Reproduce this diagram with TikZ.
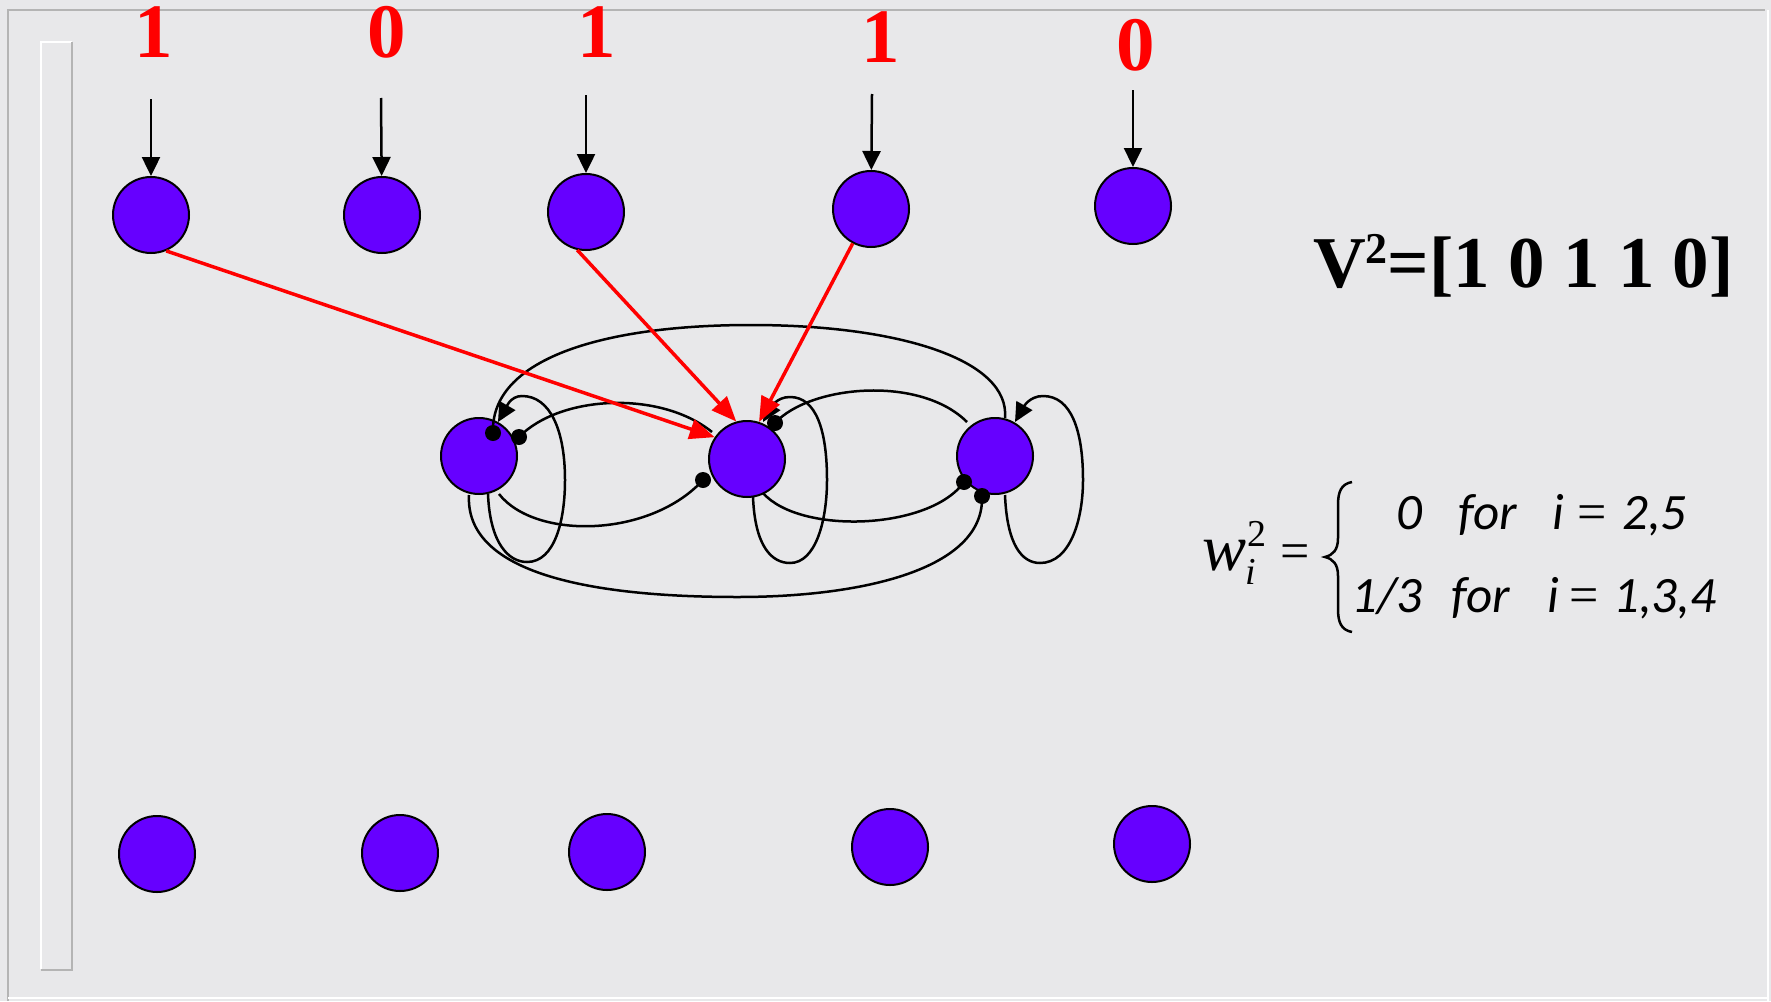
\documentclass[tikz,border=0pt]{standalone}
\usepackage{fontspec}
\setmainfont{Liberation Serif}
\newfontfamily\calfont{Carlito}
\usetikzlibrary{arrows.meta,calc}
\definecolor{purp}{HTML}{6600FF}
\definecolor{bgc}{HTML}{E8E8EA}
\definecolor{framec}{HTML}{B4B4B4}
\begin{document}
\begin{tikzpicture}[x=1pt,y=-1pt,
  neuron/.style={circle,draw=black,line width=2pt,fill=purp,minimum size=76pt,inner sep=0pt},
  bit/.style={text=red,font=\fontsize{77}{77}\selectfont\bfseries,inner sep=0pt,anchor=base},
  inarrow/.style={line width=2.5pt,-{Triangle[length=19pt,width=18pt]}},
  redarrow/.style={red,line width=3.5pt,-{Triangle[length=25pt,width=20pt]}},
  link/.style={line width=2.5pt},
  selfloop/.style={line width=2.5pt,-{Triangle[length=19pt,width=18pt]}},
  rowtext/.style={font=\fontsize{51}{51}\selectfont\calfont\itshape,inner sep=0pt,anchor=base west},
  eqtext/.style={font=\fontsize{52}{52}\selectfont,inner sep=0pt,anchor=base west},
]
\fill[bgc] (0,0) rectangle (1771,1001);
\useasboundingbox (0,0) rectangle (1771,1001);
% frames
\draw[framec,line width=2.5pt] (8,1001) -- (8,10) -- (1765,10);
\draw[white,line width=2.5pt] (1768,10) -- (1768,1001);
\draw[white,line width=2.5pt] (8,998) -- (1768,998);
\draw[white,line width=2.5pt] (41,969) -- (41,42) -- (72,42);
\draw[framec,line width=2.5pt] (72,42) -- (72,970) -- (41,970);

% top labels
\node[bit] (l1) at (154,57) {1};
\node[bit] (l2) at (387,57) {0};
\node[bit] (l3) at (597,57) {1};
\node[bit] (l4) at (881,62) {1};
\node[bit] (l5) at (1136,70) {0};

% top row
\node[neuron] (t1) at (151,215) {};
\node[neuron] (t2) at (382,215) {};
\node[neuron] (t3) at (586,212) {};
\node[neuron] (t4) at (871,209) {};
\node[neuron] (t5) at (1133,206) {};
% middle row
\node[neuron] (L) at (479,456) {};
\node[neuron] (M) at (747,459) {};
\node[neuron] (R) at (995,456) {};
% bottom row
\node[neuron] (b1) at (157,854) {};
\node[neuron] (b2) at (400,853) {};
\node[neuron] (b3) at (607,852) {};
\node[neuron] (b4) at (890,847) {};
\node[neuron] (b5) at (1152,844) {};

% input arrows
\coordinate (a1) at (151,99);
\coordinate (a2) at (381,98);
\coordinate (a3) at (586,95);
\coordinate (a4) at (872,94);
\coordinate (a5) at (1133,90);
\foreach \i in {1,...,5} \draw[inarrow] (a\i) -- (t\i);

% dot start points
\coordinate (dA) at ($(L.center)+(14,-23)$);
\coordinate (dB) at ($(L.center)+(40,-19)$);
\coordinate (dC) at ($(M.center)+(-44,21)$);
\coordinate (dD) at ($(M.center)+(28,-36)$);
\coordinate (dE) at ($(R.center)+(-31,26)$);
\coordinate (dF) at ($(R.center)+(-13,40)$);

% links
\draw[link] (dA) .. controls (490,360) and (600,325) .. (751,325)
  .. controls (900,325) and (1010,360) .. ($(R.center)+(10,-38)$);
\draw[link] (dB) .. controls (560,395) and (660,390) .. ($(M.center)+(-35,-27)$);
\draw[link] (dC) .. controls (650,538) and (535,540) .. ($(L.center)+(20,38)$);
\draw[link] (dF) .. controls (985,570) and (860,597) .. (738,597)
  .. controls (580,597) and (465,570) .. ($(L.center)+(-10,39)$);
\draw[link] (dD) .. controls (810,385) and (920,375) .. ($(R.center)+(-28,-34)$);
\draw[link] (dE) .. controls (930,530) and (800,535) .. ($(M.center)+(16,34)$);

% self loops
\draw[selfloop] ($(L.center)+(9,38)$) .. controls +(2,50) and +(-18,0) .. ($(L.center)+(48,106)$)
  .. controls +(28,0) and +(0,40) .. ($(L.center)+(86,24)$)
  .. controls +(0,-50) and +(28,0) .. ($(L.center)+(43,-60)$)
  .. controls +(-12,0) and +(8,-14) .. ($(L.center)+(19,-34)$);
\draw[selfloop] ($(M.center)+(6,38)$) .. controls +(2,50) and +(-18,0) .. ($(M.center)+(43,104)$)
  .. controls +(26,0) and +(0,40) .. ($(M.center)+(80,21)$)
  .. controls +(0,-50) and +(26,0) .. ($(M.center)+(43,-62)$)
  .. controls +(-14,0) and +(8,-14) .. ($(M.center)+(16,-37)$);
\draw[selfloop] ($(R.center)+(10,39)$) .. controls +(2,50) and +(-18,0) .. ($(R.center)+(45,107)$)
  .. controls +(30,0) and +(0,40) .. ($(R.center)+(88,24)$)
  .. controls +(0,-50) and +(28,0) .. ($(R.center)+(48,-60)$)
  .. controls +(-14,0) and +(8,-14) .. ($(R.center)+(20,-34)$);

% dots
\foreach \d in {dA,dB,dC,dD,dE,dF} \fill (\d) circle (8);

% red arrows
\draw[redarrow] (t1.-67) -- (M.146);
\draw[redarrow] (t3.257) -- (M.106);
\draw[redarrow] (t4.242) -- (M.72);

% V^2 text
\node[inner sep=0pt,anchor=base west,font=\fontsize{73}{73}\selectfont\bfseries] (vtxt) at (1313,287)
  {V\raisebox{24pt}{\fontsize{44}{44}\selectfont 2}=[1 0 1 1 0]};

% weight formula
\node[inner sep=0pt,anchor=base west,font=\fontsize{66}{66}\selectfont\itshape] (w) at (1202,570) {w};
\node[inner sep=0pt,anchor=base west,font=\fontsize{38}{38}\selectfont\itshape] (wi) at (1245,584) {i};
\node[inner sep=0pt,anchor=base west,font=\fontsize{38}{38}\selectfont] (w2) at (1247,546) {2};
\node[eqtext] (weq) at (1280,568) {=};
\draw[line width=2.5pt] (1352,482) .. controls (1341,484) and (1338,492) .. (1338,505) -- (1338,538)
  .. controls (1338,550) and (1333,555) .. (1325,557)
  .. controls (1333,559) and (1338,564) .. (1338,576) -- (1338,609)
  .. controls (1338,622) and (1341,630) .. (1352,632);
\node[rowtext] (r1a) at (1396,529) {0};
\node[rowtext] (r1b) at (1458,529) {for};
\node[rowtext] (r1c) at (1552,529) {i};
\node[eqtext] (r1d) at (1577,529) {=};
\node[rowtext] (r1e) at (1622,529) {2,5};
\node[rowtext] (r2a) at (1351,612) {1/3};
\node[rowtext] (r2b) at (1451,612) {for};
\node[rowtext] (r2c) at (1547,612) {i};
\node[eqtext] (r2d) at (1569,612) {=};
\node[rowtext] (r2e) at (1613,612) {1,3,4};
\end{tikzpicture}
\end{document}
